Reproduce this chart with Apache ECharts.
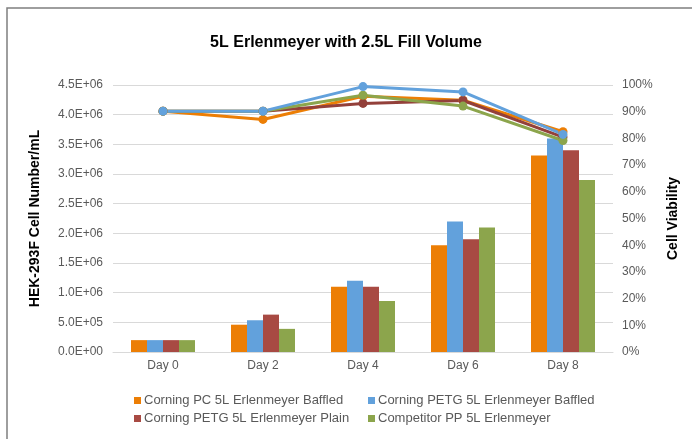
<!DOCTYPE html>
<html>
<head>
<meta charset="utf-8">
<script src="https://cdn.jsdelivr.net/npm/echarts@6/dist/echarts.min.js"></script>
<style>html,body{margin:0;padding:0;background:#fff;}#c{width:692px;height:439px;}</style>
</head>
<body>
<div id="c"></div>
<script>
const categories = ['Day 0', 'Day 2', 'Day 4', 'Day 6', 'Day 8'];
const seriesNames = [
  'Corning PC 5L Erlenmeyer Baffled',
  'Corning PETG 5L Erlenmeyer Baffled',
  'Corning PETG 5L Erlenmeyer Plain',
  'Competitor PP 5L Erlenmeyer'
];
// Cell number / mL (bars)
const cellPC_Baffled   = [2.0e5, 4.6e5, 1.10e6, 1.80e6, 3.31e6];
const cellPETG_Baffled = [2.0e5, 5.35e5, 1.20e6, 2.20e6, 3.60e6];
const cellPETG_Plain   = [2.0e5, 6.3e5, 1.10e6, 1.90e6, 3.40e6];
const cellCompetitor   = [2.0e5, 3.9e5, 0.86e6, 2.10e6, 2.90e6];
// Cell viability (lines)
const viaPC_Baffled   = [0.902, 0.871, 0.958, 0.943, 0.825];
const viaPETG_Baffled = [0.902, 0.902, 0.994, 0.974, 0.815];
const viaPETG_Plain   = [0.902, 0.902, 0.931, 0.942, 0.805];
const viaCompetitor   = [0.902, 0.902, 0.962, 0.921, 0.792];
const leftTicks = { min: 0, max: 4.5e6, interval: 5e5 };
const rightTicks = { min: 0, max: 1, interval: 0.1 };

const barColors = ['#EC7E05', '#62A1DC', '#A84A43', '#8CA54C'];
const lineColors = ['#EC7E05', '#62A1DC', '#93403A', '#8CA54C'];
const cellData = [cellPC_Baffled, cellPETG_Baffled, cellPETG_Plain, cellCompetitor];
const viaData = [viaPC_Baffled, viaPETG_Baffled, viaPETG_Plain, viaCompetitor];

function sci(v) {
  if (v === 0) return '0.0E+00';
  const e = Math.floor(Math.log10(v) + 1e-9);
  const m = v / Math.pow(10, e);
  return m.toFixed(1) + 'E+' + String(e).padStart(2, '0');
}

const FONT = '"Liberation Sans", Arial, sans-serif';
const series = [];
for (let i = 0; i < 4; i++) {
  series.push({
    name: seriesNames[i], type: 'bar', yAxisIndex: 0,
    data: cellData[i], barGap: '0%', barCategoryGap: '36%',
    itemStyle: { color: barColors[i] }, z: 2
  });
}
const lineOrder = [0, 2, 3, 1];
lineOrder.forEach(i => {
  series.push({
    name: seriesNames[i], type: 'line', yAxisIndex: 1,
    data: viaData[i], symbol: 'circle', symbolSize: 9,
    lineStyle: { color: lineColors[i], width: 3 },
    itemStyle: { color: lineColors[i] }, z: 5
  });
});

const legendText = { fontFamily: FONT, fontSize: 13, color: '#595959', padding: [0, 0, 0, -2] };
const chart = echarts.init(document.getElementById('c'), null, { renderer: 'canvas' });
chart.setOption({
  animation: false,
  backgroundColor: '#fff',
  textStyle: { fontFamily: FONT },
  title: {
    text: '5L Erlenmeyer with 2.5L Fill Volume',
    left: 'center', top: 30,
    textStyle: { fontFamily: FONT, fontSize: 16, fontWeight: 'bold', color: '#000' }
  },
  graphic: [{
    type: 'rect', shape: { x: 7, y: 8, width: 700, height: 460 },
    style: { fill: 'none', stroke: '#7f7f7f', lineWidth: 1.5 }, silent: true
  }],
  legend: [
    {
      data: [seriesNames[0], seriesNames[2]], orient: 'vertical',
      left: 129, top: 389, itemGap: 5, itemWidth: 7, itemHeight: 7, icon: 'rect',
      textStyle: legendText
    },
    {
      data: [seriesNames[1], seriesNames[3]], orient: 'vertical',
      left: 363, top: 389, itemGap: 5, itemWidth: 7, itemHeight: 7, icon: 'rect',
      textStyle: legendText
    }
  ],
  grid: { left: 113, right: 79, top: 85, bottom: 87, containLabel: false },
  xAxis: {
    type: 'category', data: categories,
    axisLine: { lineStyle: { color: '#D9D9D9' } },
    axisTick: { show: false },
    axisLabel: { color: '#595959', fontSize: 12, margin: 8, fontFamily: FONT }
  },
  yAxis: [
    {
      type: 'value', min: leftTicks.min, max: leftTicks.max, interval: leftTicks.interval,
      name: 'HEK-293F Cell Number/mL', nameLocation: 'middle', nameRotate: 90, nameGap: 71,
      nameTextStyle: { fontFamily: FONT, fontSize: 14, fontWeight: 'bold', color: '#000' },
      axisLine: { show: false }, axisTick: { show: false },
      axisLabel: { color: '#595959', fontSize: 12, margin: 10, formatter: sci, fontFamily: FONT },
      splitLine: { lineStyle: { color: '#D9D9D9', width: 1 } }
    },
    {
      type: 'value', min: rightTicks.min, max: rightTicks.max, interval: rightTicks.interval,
      name: 'Cell Viability', nameLocation: 'middle', nameRotate: 90, nameGap: 53,
      nameTextStyle: { fontFamily: FONT, fontSize: 14, fontWeight: 'bold', color: '#000' },
      axisLine: { show: false }, axisTick: { show: false },
      axisLabel: { color: '#595959', fontSize: 12, margin: 9, fontFamily: FONT,
        formatter: v => Math.round(v * 100) + '%' },
      splitLine: { show: false }
    }
  ],
  series: series
});
</script>
</body>
</html>
